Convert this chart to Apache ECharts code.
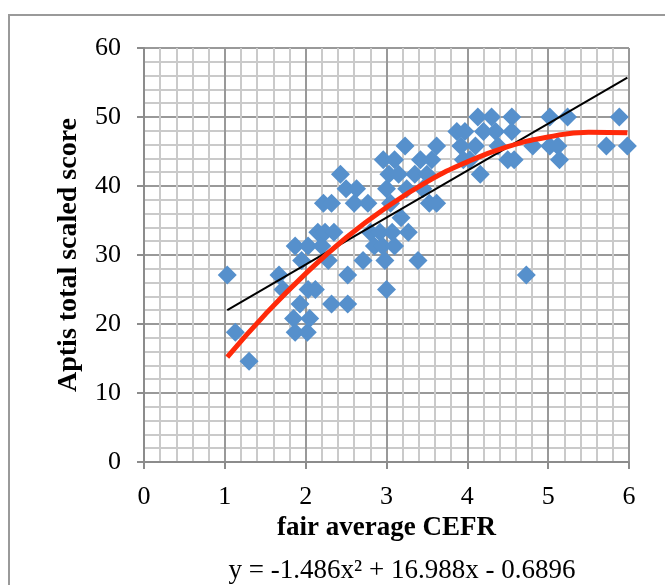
<!DOCTYPE html>
<html>
<head>
<meta charset="utf-8">
<script src="https://cdn.jsdelivr.net/npm/echarts@6/dist/echarts.min.js"></script>
<style>
  html, body { margin: 0; padding: 0; background: #fff; }
  #main { width: 665px; height: 585px; }
</style>
</head>
<body>
<div id="main"></div>
<script>
// scatter values
var cefr = [
    1.03, 1.13, 1.30, 1.67, 1.72, 1.85, 1.87, 1.87, 1.93, 1.95,
    2.02, 2.05, 2.03, 2.03, 2.12, 2.15, 2.20, 2.22, 2.24, 2.28,
    2.32, 2.32, 2.35, 2.43, 2.50, 2.52, 2.52, 2.60, 2.63, 2.71,
    2.77, 2.80, 2.85, 2.92, 2.95, 2.98, 3.00, 2.96, 3.00, 3.03,
    3.05, 3.07, 3.10, 3.10, 3.15, 3.18, 3.23, 3.25, 3.27, 3.35,
    3.39, 3.42, 3.45, 3.50, 3.53, 3.56, 3.62, 3.62, 3.87, 3.92,
    3.97, 3.95, 4.03, 4.10, 4.13, 4.16, 4.20, 4.30, 4.35, 4.38,
    4.50, 4.55, 4.55, 4.58, 4.73, 4.81, 5.02, 5.02, 5.12, 5.14,
    5.24, 5.72, 5.88, 5.98
];
var aptis = [
    27.1, 18.8, 14.6, 27.1, 25.0, 20.8, 18.8, 31.3, 22.9, 29.2,
    18.8, 20.8, 25.0, 31.3, 25.0, 33.3, 31.3, 37.5, 33.3, 29.2,
    37.5, 22.9, 33.3, 41.7, 39.6, 27.1, 22.9, 37.5, 39.6, 29.2,
    37.5, 33.3, 31.3, 33.3, 31.3, 29.2, 25.0, 43.8, 39.6, 41.7,
    37.5, 33.3, 31.3, 43.8, 41.7, 35.4, 45.8, 39.6, 33.3, 41.7,
    29.2, 43.8, 39.6, 41.7, 37.5, 43.8, 45.8, 37.5, 47.9, 45.8,
    47.9, 43.8, 43.8, 45.8, 50.0, 41.7, 47.9, 50.0, 47.9, 45.8,
    43.8, 50.0, 47.9, 43.8, 27.1, 45.8, 50.0, 45.8, 45.8, 43.8,
    50.0, 45.8, 50.0, 45.8
];

// trend lines, points
var linX = [1.03, 5.98];
var linY = [22.0, 55.7];
var polyX = [1.03, 1.5, 2, 2.5, 3, 3.5, 4, 4.5, 5, 5.5, 5.98];
var polyY = [15.2, 21.4, 27.3, 32.5, 36.9, 40.6, 43.5, 45.7, 47.1, 47.8, 47.7];

var xTitle = 'fair average CEFR';
var yTitle = 'Aptis total scaled score';
var equation = 'y = -1.486x² + 16.988x - 0.6896';

function pairs(a, b) {
    var out = [];
    for (var i = 0; i < a.length; i++) out.push([a[i], b[i]]);
    return out;
}

var font = '"Liberation Serif", "DejaVu Serif", serif';
var chart = echarts.init(document.getElementById('main'));

var axisCommon = {
    axisLine: { show: true, onZero: false, lineStyle: { color: '#8c8c8c', width: 2 } },
    axisTick: { show: true, inside: false, length: 7, lineStyle: { color: '#8c8c8c', width: 2 } },
    splitLine: { show: true, lineStyle: { color: '#999999', width: 2 } },
    minorTick: { show: false, splitNumber: 5 },
    minorSplitLine: { show: true, lineStyle: { color: '#cacaca', width: 2 } }
};

chart.setOption({
    animation: false,
    backgroundColor: '#fff',
    grid: { left: 144, right: 36, top: 48, bottom: 123 },
    xAxis: Object.assign({
        type: 'value', min: 0, max: 6, interval: 1,
        name: xTitle, nameLocation: 'middle', nameGap: 47,
        nameTextStyle: { fontFamily: font, fontSize: 27, fontWeight: 'bold', color: '#000' },
        axisLabel: { margin: 22, fontFamily: font, fontSize: 26, color: '#000' }
    }, axisCommon),
    yAxis: Object.assign({
        type: 'value', min: 0, max: 60, interval: 10,
        name: yTitle, nameLocation: 'middle', nameGap: 61,
        nameTextStyle: { fontFamily: font, fontSize: 28, fontWeight: 'bold', color: '#000' },
        axisLabel: { margin: 23, fontFamily: font, fontSize: 26, color: '#000' }
    }, axisCommon),
    graphic: [
        {
            type: 'polyline', silent: true, z: -1,
            shape: { points: [[9, 585], [9, 15], [665, 15]] },
            style: { stroke: '#9a9a9a', lineWidth: 2, fill: null }
        },
        {
            type: 'text', silent: true,
            style: {
                text: equation, x: 402, y: 571, align: 'center', verticalAlign: 'middle',
                fontFamily: font, fontSize: 27, fill: '#000'
            }
        }
    ],
    series: [
        {
            type: 'scatter', name: 'scores',
            symbol: 'diamond', symbolSize: 19,
            itemStyle: { color: '#5690cc', opacity: 1 },
            data: pairs(cefr, aptis), z: 3
        },
        {
            type: 'line', name: 'linear', showSymbol: false,
            lineStyle: { color: '#000', width: 2 },
            data: pairs(linX, linY), z: 5
        },
        {
            type: 'line', name: 'poly', showSymbol: false, smooth: true,
            lineStyle: { color: '#ff2a0a', width: 5 },
            data: pairs(polyX, polyY), z: 6
        }
    ]
});
</script>
</body>
</html>
